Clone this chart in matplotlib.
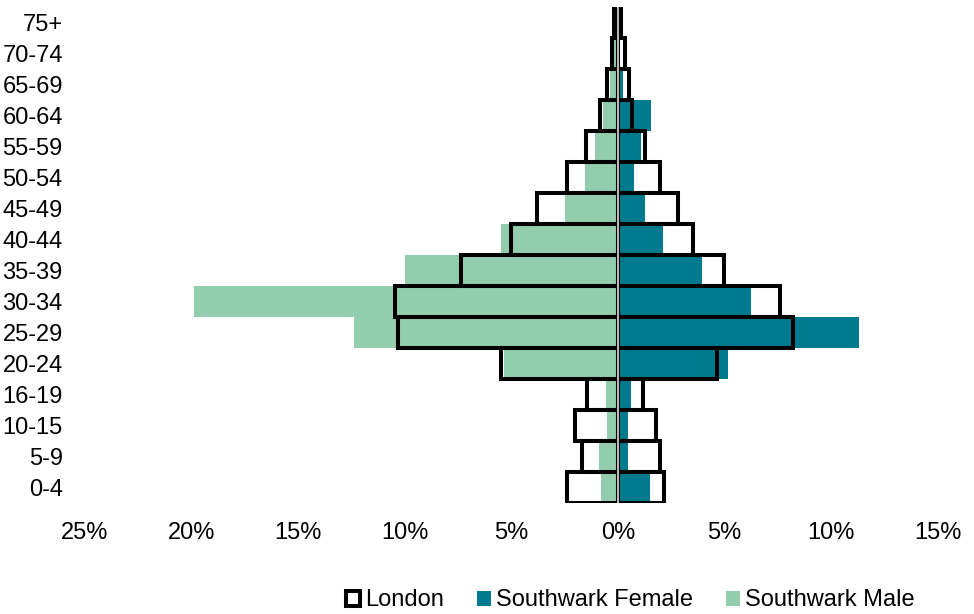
import matplotlib
matplotlib.use("Agg")
import matplotlib.pyplot as plt
from matplotlib.patches import Patch
from matplotlib.ticker import FuncFormatter
import numpy as np

plt.rcParams["font.family"] = ["Liberation Sans", "DejaVu Sans"]

# age bands, bottom to top
ages = ["0-4", "5-9", "10-15", "16-19", "20-24", "25-29", "30-34", "35-39",
        "40-44", "45-49", "50-54", "55-59", "60-64", "65-69", "70-74", "75+"]

# % of population
london_male = [2.4, 1.7, 2.0, 1.45, 5.5, 10.3, 10.45, 7.35,
               5.0, 3.8, 2.4, 1.5, 0.85, 0.5, 0.28, 0.2]
london_female = [2.15, 1.95, 1.8, 1.15, 4.65, 8.2, 7.6, 4.95,
                 3.5, 2.8, 1.95, 1.25, 0.65, 0.5, 0.33, 0.15]
southwark_male = [0.8, 0.9, 0.5, 0.55, 5.35, 12.4, 19.9, 10.0,
                  5.5, 2.5, 1.55, 1.1, 0.7, 0.4, 0.35, 0.1]
southwark_female = [1.5, 0.45, 0.45, 0.6, 5.15, 11.3, 6.25, 3.95,
                    2.1, 1.25, 0.75, 1.05, 1.55, 0.25, 0.1, 0.05]

teal = "#007a8e"
green = "#92cdad"

fig = plt.figure(figsize=(9.74, 6.14), dpi=100)
ax = fig.add_axes([0.0873, 0.18, 0.8757, 0.8094])

y = np.arange(len(ages))
ax.barh(y, -np.array(southwark_male), height=1.0, color=green, zorder=2)
ax.barh(y, southwark_female, height=1.0, color=teal, zorder=2)
ax.barh(y, -np.array(london_male), height=1.0, facecolor="none",
        edgecolor="black", linewidth=2.9, zorder=3)
ax.barh(y, london_female, height=1.0, facecolor="none",
        edgecolor="black", linewidth=2.9, zorder=3)

# centre line
ax.plot([0, 0], [-0.5, len(ages) - 0.5], color="#bdbdbd", lw=1.4,
        zorder=4, solid_capstyle="butt")

ax.set_xlim(-25, 15)
ax.set_ylim(-0.5, len(ages) - 0.5)
ax.set_xticks(np.arange(-25, 16, 5))
ax.xaxis.set_major_formatter(FuncFormatter(lambda v, p: "%d%%" % abs(round(v))))
ax.set_yticks(y)
ax.set_yticklabels(ages)
ax.tick_params(axis="x", length=0, pad=13, labelsize=17)
ax.tick_params(axis="y", length=0, pad=16, labelsize=17)
for s in ax.spines.values():
    s.set_visible(False)

handles = [
    Patch(facecolor="white", edgecolor="black", linewidth=2.9, label="London"),
    Patch(facecolor=teal, label="Southwark Female"),
    Patch(facecolor=green, label="Southwark Male"),
]
fig.legend(handles=handles, loc="center", bbox_to_anchor=(0.647, 0.022),
           ncol=3, frameon=False, fontsize=17, handlelength=0.6,
           handleheight=0.6, handletextpad=0.2, columnspacing=1.4)

fig.savefig("out.png", dpi=100)
